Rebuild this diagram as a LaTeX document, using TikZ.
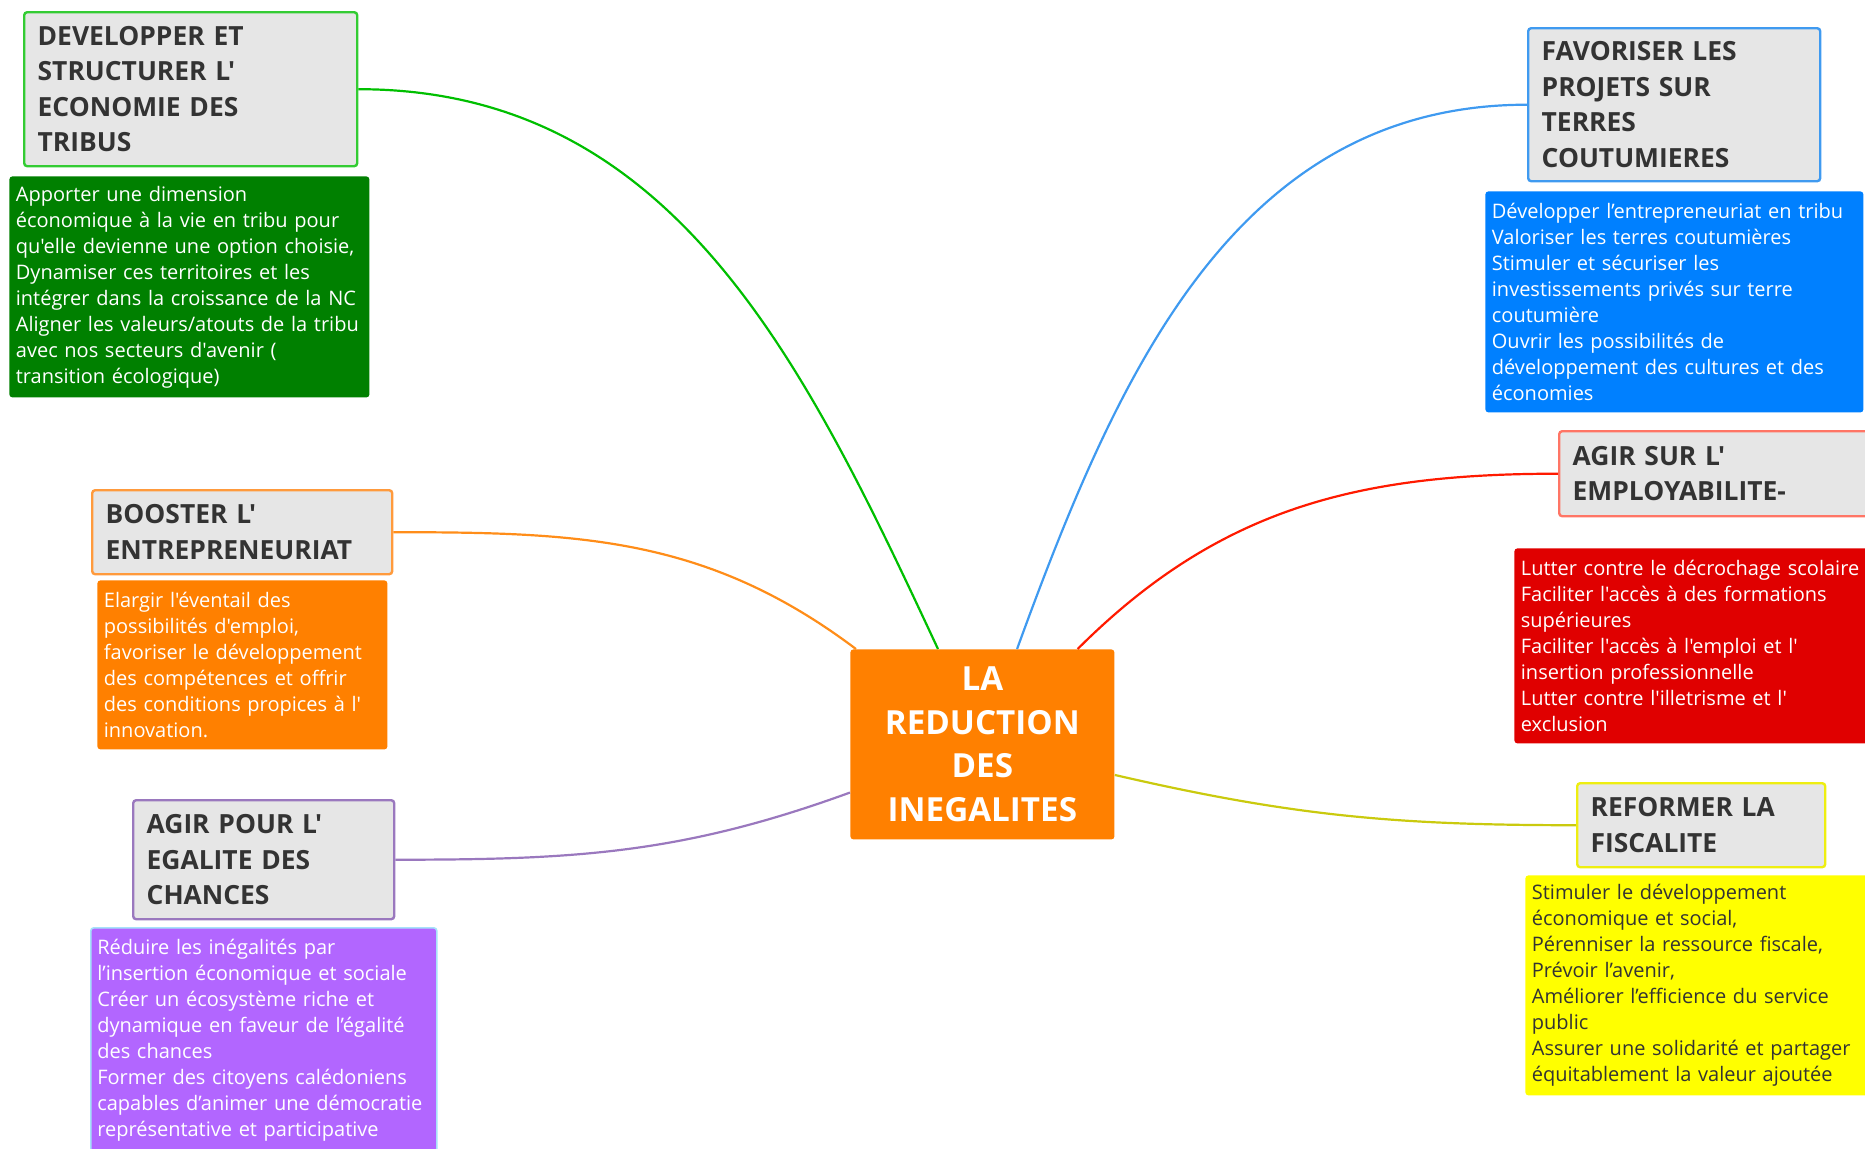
\documentclass[tikz,border=0pt]{standalone}
\usepackage{fontspec}
\setmainfont{Open Sans}[Ligatures=TeXOff]

\definecolor{titlegray}{HTML}{E6E6E6}
\definecolor{titletext}{HTML}{333333}
\definecolor{centreorange}{HTML}{FF8000}
\definecolor{vert}{HTML}{008000}
\definecolor{vertclair}{HTML}{33CC33}
\definecolor{bleu}{HTML}{0080FF}
\definecolor{bleuclair}{HTML}{3F9AF0}
\definecolor{orange}{HTML}{FF8000}
\definecolor{orangeclair}{HTML}{FF9A3C}
\definecolor{rouge}{HTML}{E00000}
\definecolor{rougeclair}{HTML}{FF7565}
\definecolor{violet}{HTML}{B266FF}
\definecolor{violetclair}{HTML}{9A78BE}
\definecolor{jaune}{HTML}{FFFF00}
\definecolor{jauneclair}{HTML}{EEEE10}

\begin{document}
\begin{tikzpicture}%
        [x=0.5pt, y=0.5pt,
        title/.style={draw, fill=titlegray, line width=1.2pt, rounded corners=1.5pt,
                anchor=north west, align=left, text=titletext, inner xsep=6.75pt,
                font=\bfseries\fontsize{13.2}{17.75}\selectfont},
        desc/.style={fill=#1, rounded corners=1.5pt, anchor=north west, align=left,
                text=white, inner xsep=3.25pt,
                font=\fontsize{10}{13}\selectfont},
        link/.style={color=#1, line width=1.1pt}]

    \useasboundingbox (0,0) rectangle (1865,-1148);

    %% Drawing the centre
    \node[fill=centreorange, rounded corners=1.5pt, anchor=north west, align=center,
          text=white, minimum width=132pt, minimum height=95pt,
          font=\bfseries\fontsize{16.6}{21.8}\selectfont] (c) at (850,-649)
          {LA\\REDUCTION\\DES\\INEGALITES};
    %%
    %% Drawing the branches on the left
    %%
    \node[title, draw=vertclair, text width=153pt, minimum height=77pt] (t1) at (23,-11)
          {DEVELOPPER ET\\STRUCTURER L'\\ECONOMIE DES\\TRIBUS};
    \node[desc=vert, text width=173.5pt, minimum height=110.5pt] (d1) at (9,-176)
          {Apporter une dimension\\économique à la vie en tribu pour\\qu'elle devienne une option choisie,\\Dynamiser ces territoires et les\\intégrer dans la croissance de la NC\\Aligner les valeurs/atouts de la tribu\\avec nos secteurs d'avenir (\\transition écologique)};
    \node[title, draw=orangeclair, text width=136.5pt, minimum height=42pt] (t3) at (91,-489)
          {BOOSTER L'\\ENTREPRENEURIAT};
    \node[desc=orange, text width=138.5pt, minimum height=84.5pt] (d3) at (97,-580)
          {Elargir l'éventail des\\possibilités d'emploi,\\favoriser le développement\\des compétences et offrir\\des conditions propices à l'\\innovation.};
    \node[title, draw=violetclair, text width=117pt, minimum height=59.5pt] (t5) at (132,-799)
          {AGIR POUR L'\\EGALITE DES\\CHANCES};
    \node[desc=violet, draw=cyan!35, line width=0.8pt, text width=166.5pt, minimum height=112pt] (d5) at (90,-927)
          {Réduire les inégalités par\\l’insertion économique et sociale\\Créer un écosystème riche et\\dynamique en faveur de l’égalité\\des chances\\Former des citoyens calédoniens\\capables d’animer une démocratie\\représentative et participative};
    %%
    %% Drawing the branches on the right
    %%
    \node[title, draw=bleuclair, text width=132.5pt, minimum height=76.5pt] (t2) at (1527,-27)
          {FAVORISER LES\\PROJETS SUR\\TERRES\\COUTUMIERES};
    \node[desc=bleu, text width=182.5pt, minimum height=110.5pt] (d2) at (1485,-191)
          {Développer l’entrepreneuriat en tribu\\Valoriser les terres coutumières\\Stimuler et sécuriser les\\investissements privés sur terre\\coutumière\\Ouvrir les possibilités de\\développement des cultures et des\\économies};
    \node[title, draw=rougeclair, text width=151.5pt, minimum height=42.5pt] (t4) at (1558,-430)
          {AGIR SUR L'\\EMPLOYABILITE-};
    \node[desc=rouge, text width=173.5pt, minimum height=97.5pt] (d4) at (1514,-548)
          {Lutter contre le décrochage scolaire\\Faciliter l'accès à des formations\\supérieures\\Faciliter l'accès à l'emploi et l'\\insertion professionnelle\\Lutter contre l'illetrisme et l'\\exclusion};
    \node[title, draw=jauneclair, text width=110.5pt, minimum height=42pt] (t6) at (1576,-782)
          {REFORMER LA\\FISCALITE};
    \node[desc=jaune, text=titletext, text width=168.5pt, minimum height=110pt] (d6) at (1525,-875)
          {Stimuler le développement\\économique et social,\\Pérenniser la ressource fiscale,\\Prévoir l’avenir,\\Améliorer l’efficience du service\\public\\Assurer une solidarité et partager\\équitablement la valeur ajoutée};
    %%
    %% Drawing the links
    %%
    \draw[link=green!75!black] (t1) to[out=0, in=115] (c);
    \draw[link=orange!90] (t3) to[out=0, in=143] (c);
    \draw[link=violetclair] (t5) to[out=0, in=200] (c);
    \draw[link=bleuclair] (t2) to[out=180, in=70] (c);
    \draw[link=red!80!orange] (t4) to[out=180, in=45] (c);
    \draw[link=jauneclair!85!black] (t6) to[out=180, in=-13] (c);
    %%
    \end{tikzpicture}
\end{document}
